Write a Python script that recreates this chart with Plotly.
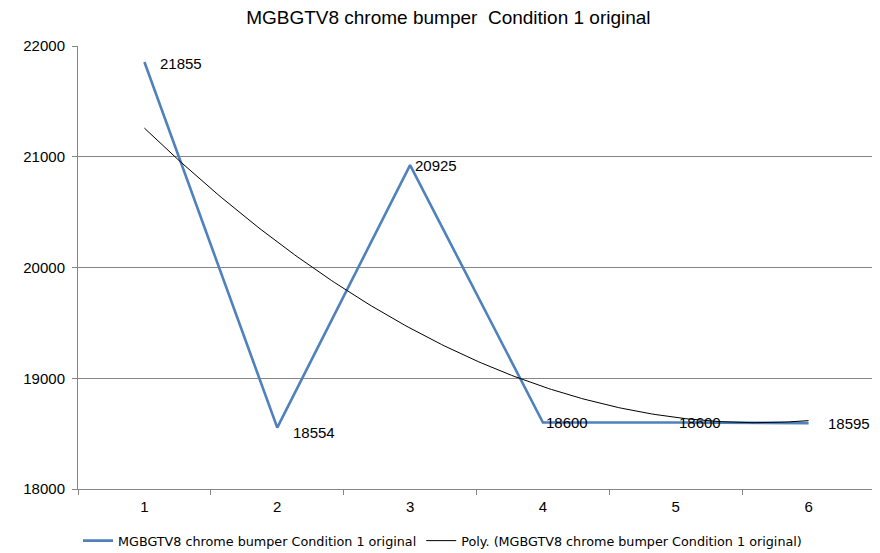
import numpy as np
import plotly.graph_objects as go

title = "MGBGTV8 chrome bumper  Condition 1 original"
series_name = "MGBGTV8 chrome bumper Condition 1 original"
trend_name = "Poly. (MGBGTV8 chrome bumper Condition 1 original)"
x_vals = [1, 2, 3, 4, 5, 6]
y_vals = [21855, 18554, 20925, 18600, 18600, 18595]
y_ticks = [18000, 19000, 20000, 21000, 22000]

# Excel-style 2nd order polynomial trendline computed from the data
coef = np.polyfit(x_vals, y_vals, 2)
xt = np.linspace(min(x_vals), max(x_vals), 200)
yt = np.polyval(coef, xt)

FONT = "Liberation Sans, Arial"
fig = go.Figure()
fig.add_trace(go.Scatter(
    x=x_vals, y=y_vals, mode="lines", name=series_name,
    line=dict(color="#4F81BD", width=2.6),
))
fig.add_trace(go.Scatter(
    x=xt, y=yt, mode="lines", name=trend_name,
    line=dict(color="#000000", width=1), hoverinfo="skip",
))

# data labels (Excel "right" placement)
label_dx = [14, 14, 3, 1, 1, 17]
label_dy = [-1, -5, 0, 0, 0, 0]
for xv, yv, dx, dy in zip(x_vals, y_vals, label_dx, label_dy):
    fig.add_annotation(x=xv, y=yv, text=str(yv), showarrow=False,
                       xanchor="left", yanchor="middle", xshift=dx, yshift=dy,
                       font=dict(size=15, color="#000000", family=FONT))

# page body has an 8px margin, so the figure is sized to fit the 880x553 window
fig.update_layout(
    width=872, height=545,
    margin=dict(l=70, r=5, t=38, b=64, autoexpand=False),
    paper_bgcolor="white", plot_bgcolor="white",
    font=dict(family=FONT, size=15, color="#000000"),
    title=dict(text=title, x=0.505, xanchor="center", y=0.995, yanchor="top",
               font=dict(size=19, family=FONT)),
    showlegend=True,
    legend=dict(orientation="h", x=0.0, xanchor="left", y=-0.117, yanchor="middle",
                font=dict(size=12.75, family="DejaVu Sans"), itemwidth=30,
                tracegroupgap=0),
    xaxis=dict(
        range=[0.5, 6.5], tickmode="array", tickvals=x_vals, ticktext=[str(v) for v in x_vals],
        showgrid=False, zeroline=False, showline=True, linecolor="#868686", linewidth=1,
        ticks="", ticklabelstandoff=4, tickfont=dict(size=15), automargin=False,
        minor=dict(tickmode="linear", tick0=0.5, dtick=1, ticks="outside", ticklen=5,
                   tickcolor="#868686", showgrid=False),
    ),
    yaxis=dict(
        range=[18000, 22000], tickmode="array", tickvals=y_ticks,
        ticktext=[str(v) for v in y_ticks], automargin=False,
        showgrid=True, gridcolor="#868686", gridwidth=1, zeroline=False,
        showline=True, linecolor="#868686", linewidth=1,
        ticks="outside", ticklen=5, tickcolor="#868686", tickfont=dict(size=15),
        ticklabelstandoff=4,
    ),
)
fig.write_html("out.html")
